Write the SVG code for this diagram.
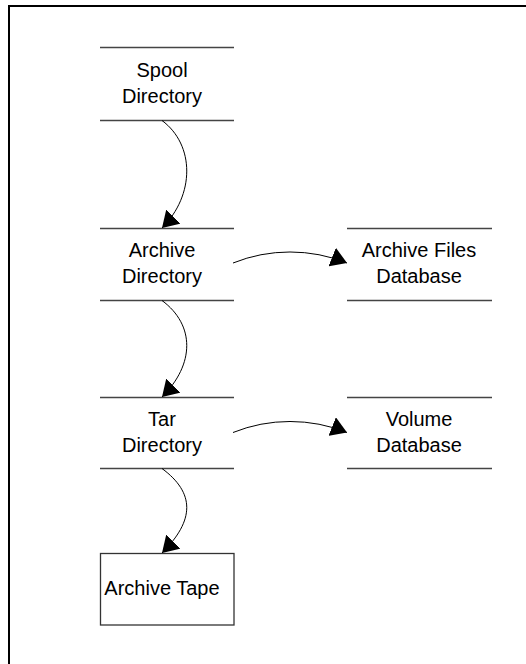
<svg xmlns="http://www.w3.org/2000/svg" width="526" height="664" viewBox="0 0 526 664">
  <style>
    .store { stroke: #444; stroke-width: 1.3; fill: none; }
    .box { stroke: #333; stroke-width: 1.3; fill: #fff; }
    .label { font-family: "Liberation Sans", Arial, sans-serif; font-size: 20px; fill: #000; text-anchor: middle; }
    .flow { stroke: #000; stroke-width: 1; fill: none; marker-end: url(#head); }
  </style>
  <defs>
    <marker id="head" markerUnits="userSpaceOnUse" markerWidth="17" markerHeight="20" viewBox="0 0 17 20" refX="16" refY="10" orient="auto">
      <path d="M0,0 L16,10 L0,20 Z" fill="#000"/>
    </marker>
  </defs>

  <rect x="9" y="6" width="530" height="670" fill="#fff" stroke="#000" stroke-width="2"/>

  <g id="spool-directory">
    <line class="store" x1="100" y1="47.5" x2="234" y2="47.5"/>
    <line class="store" x1="100" y1="120.5" x2="234" y2="120.5"/>
    <text class="label" x="162" y="77">Spool</text>
    <text class="label" x="162" y="102.5">Directory</text>
  </g>

  <g id="archive-directory">
    <line class="store" x1="100" y1="228.5" x2="234" y2="228.5"/>
    <line class="store" x1="100" y1="300.5" x2="234" y2="300.5"/>
    <text class="label" x="162" y="257">Archive</text>
    <text class="label" x="162" y="282.5">Directory</text>
  </g>

  <g id="archive-files-database">
    <line class="store" x1="347" y1="228.5" x2="492" y2="228.5"/>
    <line class="store" x1="347" y1="300.5" x2="492" y2="300.5"/>
    <text class="label" x="419" y="257">Archive Files</text>
    <text class="label" x="419" y="282.5">Database</text>
  </g>

  <g id="tar-directory">
    <line class="store" x1="100" y1="397.5" x2="234" y2="397.5"/>
    <line class="store" x1="100" y1="468.5" x2="234" y2="468.5"/>
    <text class="label" x="162" y="426">Tar</text>
    <text class="label" x="162" y="451.5">Directory</text>
  </g>

  <g id="volume-database">
    <line class="store" x1="347" y1="397.5" x2="492" y2="397.5"/>
    <line class="store" x1="347" y1="468.5" x2="492" y2="468.5"/>
    <text class="label" x="419" y="426">Volume</text>
    <text class="label" x="419" y="451.5">Database</text>
  </g>

  <g id="archive-tape">
    <rect class="box" x="100.5" y="553.5" width="133.5" height="71.5"/>
    <text class="label" x="162" y="595">Archive Tape</text>
  </g>

  <g id="connectors">
    <path class="flow" d="M162,120.5 C195,145 195,195 162,228"/>
    <path class="flow" d="M162,300.5 C195,325 195,364 162,397"/>
    <path class="flow" d="M162,468.5 C195,493 195,520 162,553"/>
    <path class="flow" d="M233,263 A153,153 0 0 1 347,263"/>
    <path class="flow" d="M233,432.5 A153,153 0 0 1 347,432.5"/>
  </g>
</svg>
